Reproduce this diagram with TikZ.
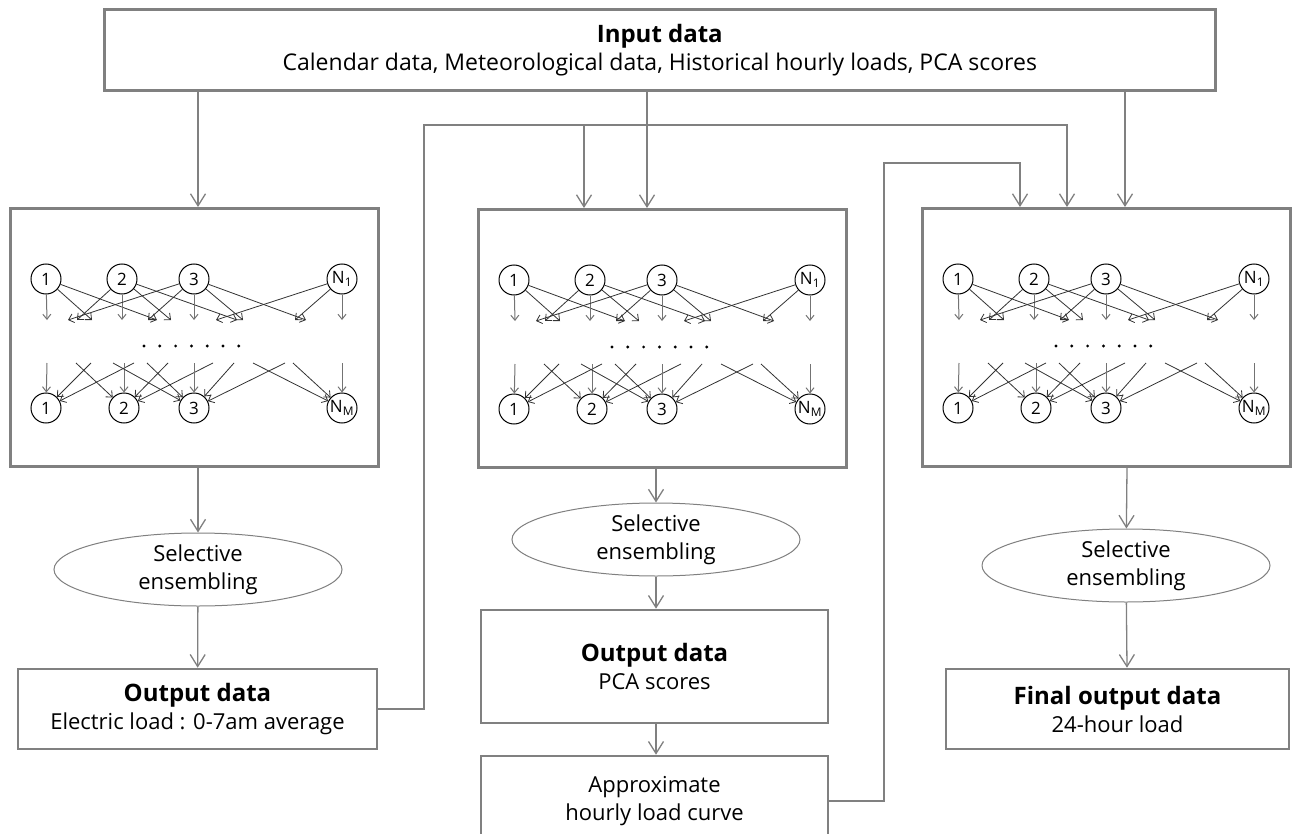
\documentclass[tikz,border=0pt]{standalone}
\usepackage{fontspec}
\setmainfont{Open Sans}
\usetikzlibrary{arrows.meta,shapes.geometric,calc}
\definecolor{lg}{HTML}{808080}
\tikzset{
 x=1pt,y=-1pt,
 boxst/.style={draw=lg,line width=2.6pt,fill=white,align=center,inner sep=0pt,font=\fontsize{22}{28}\selectfont},
 panelst/.style={draw=lg,line width=2.6pt,minimum width=368pt,minimum height=258pt,anchor=north west,inner sep=0pt},
 conn/.style={draw=lg,line width=1.3pt,-{Straight Barb[length=12pt,width=15pt]}},
 ell/.style={ellipse,draw=lg,line width=1pt,minimum width=288pt,minimum height=73pt,inner sep=0pt,align=center,font=\fontsize{22}{28}\selectfont},
 neuron/.style={circle,draw=black,line width=1pt,minimum size=30pt,inner sep=0pt,font=\fontsize{17}{17}\selectfont},
 netarr/.style={draw=black!80,line width=0.8pt,-{Straight Barb[length=5pt,width=9pt]}},
 netv/.style={draw=black!55,line width=1pt,-{Straight Barb[length=5pt,width=8pt]}},
 ttl/.style={font=\fontsize{24}{28}\selectfont\bfseries},
}
\newcommand\nnpanel[3]{%
 \node[panelst] (#1) at (#2,#3) {};
 \begin{scope}[shift={(#2,#3)}]
  \node[neuron] (#1a1) at (37,72) {1};
  \node[neuron] (#1a2) at (113,72) {2};
  \node[neuron] (#1a3) at (185,72) {3};
  \node[neuron] (#1a4) at (333,72) {N\textsubscript{1}};
  \node[neuron] (#1b1) at (37,201) {1};
  \node[neuron] (#1b2) at (115,201) {2};
  \node[neuron] (#1b3) at (185,201) {3};
  \node[neuron] (#1b4) at (333,201) {N\textsubscript{M}};
  \foreach \s/\t/\st [count=\i] in {1/38/netv,1/83/netarr,1/148/netarr,2/68/netarr,2/113/netv,2/162/netarr,2/228/netarr,3/59/netarr,3/139/netarr,3/185/netv,3/234/netarr,3/297/netarr,4/207/netarr,4/286/netarr,4/333/netv}{
   \coordinate (#1p\i) at (\t,113);
   \draw[\st] (#1a\s) -- (#1p\i);
  }
  \foreach \s/\t/\st [count=\i] in {1/38/netv,1/82/netarr,1/125/netarr,2/67/netarr,2/115/netv,2/159/netarr,2/204/netarr,3/104/netarr,3/138/netarr,3/185/netv,3/225/netarr,3/276/netarr,4/244/netarr,4/284/netarr,4/333/netv}{
   \coordinate (#1q\i) at (\t,156);
   \draw[\st] (#1q\i) -- (#1b\s);
  }
  \foreach \k in {0,...,6}{\fill (135+\k*15.8,139) circle (1.6pt);}
 \end{scope}}
\begin{document}
\begin{tikzpicture}
\fill[white] (0,0) rectangle (1292,834);
\useasboundingbox (0,0) rectangle (1292,834);

% input
\node[boxst,minimum width=1111pt,minimum height=81pt,anchor=north west,font=\fontsize{23}{28}\selectfont] (in) at (103,8)
 {{\fontsize{24}{28}\selectfont\bfseries Input data}\\Calendar data, Meteorological data, Historical hourly loads, PCA scores};

% panels
\nnpanel{L}{9}{207}
\nnpanel{M}{477}{208}
\nnpanel{R}{921}{207}

% left column
\node[ell] (eL) at (198,569.5) {Selective\\ensembling};
\node[boxst,minimum width=359pt,minimum height=80pt] (oL) at (197.5,709) {{\fontsize{24}{28}\selectfont\bfseries Output data}\\Electric load : 0-7am average};

% middle column
\node[ell] (eM) at (656,539.5) {Selective\\ensembling};
\node[boxst,minimum width=347pt,minimum height=113pt] (oM) at (654.5,666.5) {{\fontsize{24}{28}\selectfont\bfseries Output data}\\PCA scores};
\node[boxst,minimum width=347pt,minimum height=90pt] (ap) at (654.5,801) {Approximate\\hourly load curve};

% right column
\node[ell] (eR) at (1126,565.5) {Selective\\ensembling};
\node[boxst,minimum width=343pt,minimum height=80pt] (oR) at (1117.5,709) {{\fontsize{24}{28}\selectfont\bfseries Final output data}\\24-hour load};

% x positions of connectors
\coordinate (xa) at (198,0);
\coordinate (xb) at (647,0);
\coordinate (xc) at (1125,0);
\coordinate (xd) at (584,0);
\coordinate (xe) at (1067,0);
\coordinate (xf) at (1020,0);
\coordinate (xg) at (424,0);
\coordinate (xh) at (884,0);
\coordinate (ya) at (0,125);
\coordinate (yb) at (0,163);
\coordinate (xm) at (656,0);
\coordinate (xr) at (1127,0);

% input to panels
\draw[conn] (xa |- in.south) -- (xa |- L.north);
\draw[conn] (xb |- in.south) -- (xb |- M.north);
\draw[conn] (xc |- in.south) -- (xc |- R.north);

% left column flow
\draw[conn] (xa |- L.south) -- (eL);
\draw[conn] (eL) -- (oL);
% middle column flow
\draw[conn] (xm |- M.south) -- (eM);
\draw[conn] (eM) -- (xm |- oM.north);
\draw[conn] (xm |- oM.south) -- (xm |- ap.north);
% right column flow
\draw[conn] (xr |- R.south) -- (eR);
\draw[conn] (eR) -- (xr |- oR.north);

% feedback lines
\draw[conn] (oL.east) -- (oL.east -| xg) -- (xg |- ya) -- (xe |- ya) -- (xe |- R.north);
\draw[conn] (xd |- ya) -- (xd |- M.north);
\draw[conn] (ap.east) -- (ap.east -| xh) -- (xh |- yb) -- (xf |- yb) -- (xf |- R.north);
\end{tikzpicture}
\end{document}
